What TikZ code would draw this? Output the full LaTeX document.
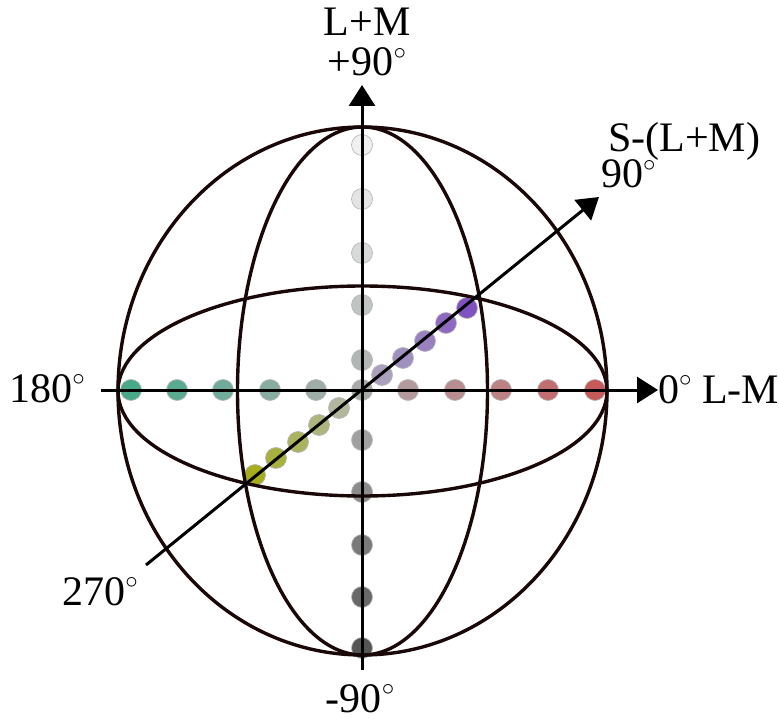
\documentclass[tikz,border=0pt]{standalone}
\usepackage{fontspec}
\setmainfont{Liberation Serif}
\usetikzlibrary{arrows.meta}
\definecolor{wire}{HTML}{1A0808}
\newcommand{\dg}{\raisebox{0.40em}{$\scriptstyle\circ$}}
\tikzset{
  dot/.style={circle,minimum size=21pt,inner sep=0pt,draw=gray!55,line width=0.7pt,fill=#1},
  wireframe/.style={draw=wire,line width=3.4pt},
  axis/.style={draw=black,line width=3pt,-{Triangle[length=21pt,width=26pt]}},
  lab/.style={font=\fontsize{42}{44}\selectfont,inner sep=0pt}
}
\begin{document}
\begin{tikzpicture}[x=1pt,y=-1pt]
\useasboundingbox (0,0) rectangle (779,719);
\coordinate (O) at (362.5,391);
% dots: vertical
\foreach \y/\c in {145/F0F0F0,199/E4E4E4,253/D8DADA,305/C0C4C2,360/B2B6B4,390/A8AAA8,440/A0A0A0,492/8C8C8C,545/7A7A7A,597/686868,648/555555}{
  \definecolor{dc}{HTML}{\c}
  \node[dot=dc] (v\y) at (362,\y) {};
}
% dots: horizontal
\foreach \x/\c in {131/48A888,177/5AAA92,223/70AB9C,270/88ACA2,316/9EADA8,408/B49A9C,455/B88E90,501/BC8284,548/C06E70,595/C45A5A}{
  \definecolor{dc}{HTML}{\c}
  \node[dot=dc] (h\x) at (\x,390) {};
}
% dots: diagonal
\foreach \x/\y/\c in {255/475/A6AE1E,276/458/A8B040,298/442/AAB35E,319/425/AEB47E,339/408/B2B79C,382/375/AAA0BC,403/358/A090BF,425/341/9A80C0,446/323/8D6AC0,467/308/8052C0}{
  \definecolor{dc}{HTML}{\c}
  \node[dot=dc] (d\x) at (\x,\y) {};
}
% wireframe sphere
\draw[wireframe] (O) ellipse [x radius=244.5, y radius=264];
\draw[wireframe] (O) ellipse [x radius=125, y radius=264];
\draw[wireframe] (O) ellipse [x radius=244.5, y radius=105];
% axes
\coordinate (vb) at (362,670);
\coordinate (vt) at (362,85);
\coordinate (hl) at (101,390);
\coordinate (hr) at (658,390);
\coordinate (dl) at (146,565);
\coordinate (dr) at (599,197);
\draw[axis] (vb) -- (vt);
\draw[axis] (hl) -- (hr);
\draw[axis] (dl) -- (dr);
% labels
\node[lab,anchor=base] (top1) at (367,36) {L+M};
\node[lab,anchor=base] (top2) at (367,76) {+90\dg};
\node[lab,anchor=west] (right) at (658,390) {0\dg\ L-M};
\node[lab,anchor=east] (left) at (85,389) {180\dg};
\node[lab,anchor=base west] (sl) at (608,152) {S-(L+M)};
\node[lab,anchor=base west] (s90) at (601,188) {90\dg};
\node[lab] (l270) at (100,592) {270\dg};
\node[lab,anchor=base] (bot) at (360,712) {-90\dg};
\end{tikzpicture}
\end{document}
